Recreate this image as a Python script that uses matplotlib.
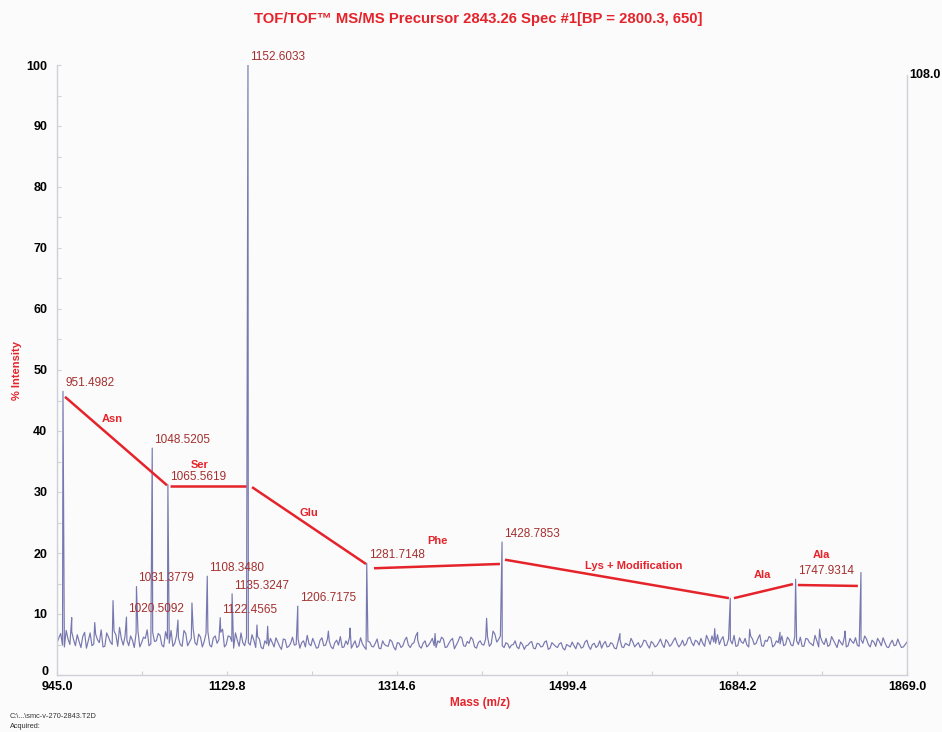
import matplotlib.pyplot as plt
import numpy as np

# baseline of the trace (% intensity): readings on the 945, 949, ... 1869 grid
base_int = [
    5.2, 6.8, 4.6, 5.9, 7.1, 4.8, 5.5, 6.3, 4.4, 6.9, 5.1, 5.8, 7.4, 4.7, 6.2, 5.0, 6.6, 7.8, 4.9, 5.7,
    6.4, 4.5, 7.2, 5.3, 6.0, 4.8, 7.0, 5.6, 6.5, 4.6, 5.9, 7.3, 5.2, 6.1, 4.7, 6.8, 5.4, 7.6, 4.9, 6.2,
    5.5, 7.1, 4.6, 6.4, 5.8, 7.5, 5.0, 6.3, 4.4, 5.7, 6.9, 4.8, 5.3, 6.6, 4.5, 5.9, 4.3, 5.1, 6.0, 4.6,
    5.4, 4.2, 5.8, 4.7, 6.2, 5.0, 4.4, 5.6, 6.5, 4.8, 5.2, 4.5, 6.1, 4.9, 5.5, 4.3, 5.7, 6.3, 4.6, 5.0,
    4.4, 5.6, 4.8, 5.1, 4.2, 5.4, 4.6, 5.9, 4.3, 5.0, 4.7, 5.5, 4.1, 5.2, 4.8, 6.2, 4.5, 5.3, 5.8, 4.4,
    5.6, 4.9, 6.0, 4.5, 5.3, 5.9, 4.6, 5.7, 4.3, 5.5, 6.1, 4.7, 5.2, 5.8, 4.4, 5.6, 4.9, 6.3, 5.1, 6.7,
    5.8, 4.8, 5.3, 4.4, 5.0, 4.6, 5.4, 4.2, 4.9, 5.5, 4.3, 5.1, 4.7, 5.6, 4.4, 5.0, 4.5, 5.3, 4.1, 4.8,
    5.4, 4.3, 5.0, 4.6, 5.7, 4.2, 5.2, 4.8, 4.4, 5.5, 4.7, 5.1, 4.3, 5.8, 4.5, 5.0, 6.0, 4.6, 5.3, 4.9,
    5.6, 4.4, 5.2, 4.8, 5.9, 4.5, 5.4, 5.0, 6.1, 4.6, 5.7, 5.1, 6.2, 4.8, 5.5, 6.0, 4.7, 5.8, 6.4, 5.2,
    5.0, 6.3, 4.9, 5.7, 6.5, 4.8, 5.4, 6.0, 4.6, 5.9, 5.2, 6.6, 4.7, 5.5, 6.1, 4.9, 5.3, 6.4, 5.0, 5.8,
    4.8, 5.6, 6.2, 4.7, 5.9, 5.1, 6.5, 4.6, 5.4, 6.0, 4.9, 5.7, 4.5, 5.3, 6.3, 4.8, 5.5, 6.1, 4.7, 5.2,
    5.9, 4.6, 5.4, 6.0, 4.8, 5.3, 4.5, 5.7, 4.9, 5.1, 4.6, 5.4,
]
# readings halfway between, on the 947, 951, ... 1867 grid
mid_int = [
    6.1, 4.9, 7.3, 5.0, 5.8, 6.6, 4.5, 7.0, 5.6, 4.8, 6.7, 5.3, 4.6, 6.9, 5.4, 7.2, 4.7, 5.9, 6.4, 4.8,
    5.7, 6.9, 4.6, 6.2, 7.4, 5.1, 5.5, 6.8, 4.9, 7.1, 5.2, 4.7, 6.5, 5.0, 7.3, 4.8, 6.0, 5.3, 6.7, 4.6,
    6.8, 4.9, 6.1, 5.2, 7.0, 4.6, 6.4, 5.5, 6.9, 4.7, 5.3, 6.2, 4.9, 5.7, 6.3, 4.5, 5.6, 4.8, 5.3, 6.1,
    4.7, 5.9, 4.5, 5.2, 4.9, 6.0, 5.3, 4.6, 5.1, 6.0, 4.4, 5.7, 4.8, 5.9, 4.6, 5.3, 4.9, 4.5, 5.6, 6.2,
    5.0, 4.5, 6.1, 4.6, 5.5, 4.7, 5.2, 4.4, 5.6, 4.8, 5.8, 4.6, 5.3, 4.5, 5.7, 4.9, 5.1, 6.4, 4.7, 5.2,
    4.6, 5.4, 4.8, 5.6, 6.2, 4.5, 5.2, 6.0, 4.9, 6.3, 4.8, 5.5, 6.2, 4.6, 5.3, 5.0, 5.9, 4.7, 7.2, 5.4,
    6.4, 4.5, 5.1, 4.9, 5.6, 4.3, 5.0, 4.8, 5.3, 4.4, 5.2, 4.6, 5.4, 4.2, 5.3, 4.7, 5.1, 4.4, 5.0, 4.6,
    4.8, 5.3, 4.4, 5.4, 4.7, 5.0, 4.5, 5.6, 5.1, 4.6, 5.3, 4.4, 5.5, 4.6, 5.2, 4.8, 5.4, 5.0, 4.5, 5.7,
    4.9, 5.5, 4.6, 5.3, 5.0, 5.8, 4.7, 5.6, 5.2, 5.0, 4.8, 6.0, 5.3, 5.7, 4.9, 5.2, 6.5, 5.0, 5.4, 6.6,
    5.8, 4.8, 5.9, 5.1, 4.7, 6.1, 5.2, 4.9, 6.4, 5.0, 6.0, 4.8, 5.7, 6.3, 4.6, 5.6, 5.1, 4.8, 6.2, 4.9,
    6.3, 5.0, 4.7, 6.0, 5.3, 4.8, 5.6, 6.2, 5.0, 4.7, 6.3, 5.1, 5.8, 4.9, 4.6, 6.0, 5.2, 4.9, 5.8, 6.4,
    5.0, 5.7, 4.7, 5.5, 6.1, 4.6, 5.2, 4.8, 5.9, 4.5, 5.0,
]

# labelled fragment peaks
peak_mz = [951.4982, 1020.5092, 1031.3779, 1048.5205, 1065.5619, 1108.3480,
           1122.4565, 1135.3247, 1152.6033, 1206.7175, 1281.7148, 1428.7853, 1747.9314]
peak_int = [46.5, 9.5, 14.5, 37.2, 31.2, 16.2, 9.4, 13.3, 100.0, 11.3, 18.3, 21.8, 15.7]

# unlabelled peaks
minor_mz = [961.0, 986.0, 1005.9, 1076.5, 1091.7, 1162.4, 1174.0, 1240.0, 1263.5,
            1337.0, 1356.0, 1412.0, 1557.0, 1660.0, 1676.9, 1698.0, 1731.0, 1774.0,
            1801.5, 1818.97]
minor_int = [9.4, 8.6, 12.2, 9.0, 11.8, 8.2, 8.0, 7.2, 7.7,
             7.0, 6.8, 9.3, 6.8, 7.6, 12.6, 7.5, 7.0, 7.5,
             7.2, 16.8]

# sequence ladder between fragment peaks
ladder_res = ['Asn', 'Ser', 'Glu', 'Phe', 'Lys + Modification', 'Ala', 'Ala']
ladder_x0 = [953.7, 1067.8, 1157.0, 1289.6, 1432.0, 1680.9, 1750.4]
ladder_y0 = [45.6, 31.0, 30.8, 17.5, 18.9, 12.6, 14.75]
ladder_x1 = [1064.6, 1150.4, 1280.9, 1426.5, 1675.4, 1745.0, 1815.6]
ladder_y1 = [31.1, 31.0, 18.2, 18.2, 12.6, 14.9, 14.6]
# residue label offsets from segment midpoints (points)
ladder_off = [(-3, 16), (-6, 15), (0, 9), (0, 18), (12, 9), (-1, 11.5), (-5, 22)]

x_ticks = [945.0, 1129.8, 1314.6, 1499.4, 1684.2, 1869.0]
y_ticks = [0, 10, 20, 30, 40, 50, 60, 70, 80, 90, 100]

RED = '#e5232b'
LABEL_RED = '#a3302f'
TRACE = '#6a6aa8'
GRID = '#cfd0d8'
SANS = ['Liberation Sans', 'DejaVu Sans']

fig = plt.figure(figsize=(9.42, 7.32), dpi=100, facecolor='#fbfbfb')
ax = fig.add_axes([57 / 942, 1 - 675 / 732, 850 / 942, 610 / 732])
ax.set_facecolor('#fbfbfb')

# assemble the trace: baseline readings plus peak apexes, in mass order
base_mz = 945.0 + 4.0 * np.arange(len(base_int))
mid_mz = 947.0 + 4.0 * np.arange(len(mid_int))
mz = np.concatenate([base_mz, mid_mz, peak_mz, minor_mz])
inten = np.concatenate([base_int, mid_int, peak_int, minor_int])
order = np.argsort(mz)
ax.plot(mz[order], inten[order], color=TRACE, lw=0.85, alpha=0.9)

ax.set_xlim(945.0, 1869.0)
ax.set_ylim(0, 100)

# peak mass labels
for m, h in zip(peak_mz, peak_int):
    ax.annotate(f'{m:.4f}', (m, h), xytext=(1.5, 1.5), textcoords='offset points',
                ha='left', va='bottom', fontsize=8.5, color=LABEL_RED,
                family=SANS, annotation_clip=False)

# ladder segments and residue names
for res, x0, y0, x1, y1, off in zip(ladder_res, ladder_x0, ladder_y0,
                                     ladder_x1, ladder_y1, ladder_off):
    ax.plot([x0, x1], [y0, y1], color=RED, lw=1.8, solid_capstyle='butt')
    ax.annotate(res, ((x0 + x1) / 2, (y0 + y1) / 2), xytext=off,
                textcoords='offset points', ha='center', va='center',
                fontsize=8, fontweight='bold', color=RED, family=SANS)

# axes frame
ax.spines['top'].set_visible(False)
for side in ['left', 'bottom', 'right']:
    ax.spines[side].set_color(GRID)
    ax.spines[side].set_linewidth(1.0)
ax.spines['right'].set_bounds(0, 98.4)

ax.set_xticks(x_ticks)
ax.set_xticklabels([f'{t:.1f}' for t in x_ticks])
ax.set_xticks([t + 92.4 for t in x_ticks[:-1]], minor=True)
ax.set_yticks(y_ticks)
ax.set_yticklabels([''] + [str(t) for t in y_ticks[1:]])
ax.set_yticks([t + 5 for t in y_ticks[:-1]], minor=True)
ax.tick_params(which='both', direction='in', color=GRID, length=3, width=0.8)
ax.tick_params(axis='x', which='major', pad=4)
ax.tick_params(axis='y', which='major', pad=7)
for lab in ax.get_xticklabels() + ax.get_yticklabels():
    lab.set_fontfamily(SANS)
    lab.set_fontweight('bold')
    lab.set_fontsize(9)

# zero sits a little above the mass labels
ax.annotate('0', (945.0, 0), xytext=(-6, 2.5), textcoords='offset points',
            ha='right', va='center', fontsize=9, fontweight='bold',
            family=SANS, annotation_clip=False)
ax.annotate('108.0', (1869.0, 98.4), xytext=(1.5, 0), textcoords='offset points',
            ha='left', va='center', fontsize=9, fontweight='bold',
            family=SANS, annotation_clip=False)

fig.text(478 / 942, 1 - 19 / 732, 'TOF/TOF™ MS/MS Precursor 2843.26 Spec #1[BP = 2800.3, 650]',
         ha='center', va='center', fontsize=10.7, fontweight='bold', color=RED, family=SANS)
fig.text(17 / 942, 1 - 370 / 732, '% Intensity', rotation=90, ha='center', va='center',
         fontsize=8, fontweight='bold', color=RED, family=SANS)
fig.text(480 / 942, 1 - 703 / 732, 'Mass (m/z)', ha='center', va='center',
         fontsize=8.5, fontweight='bold', color=RED, family=SANS)
fig.text(10 / 942, 1 - 716 / 732, 'C:\\...\\smc-v-270-2843.T2D', ha='left', va='center',
         fontsize=5.3, color='#333333', family=SANS)
fig.text(10 / 942, 1 - 726 / 732, 'Acquired:', ha='left', va='center',
         fontsize=5.3, color='#333333', family=SANS)

fig.savefig('out.png', dpi=100, facecolor=fig.get_facecolor())
